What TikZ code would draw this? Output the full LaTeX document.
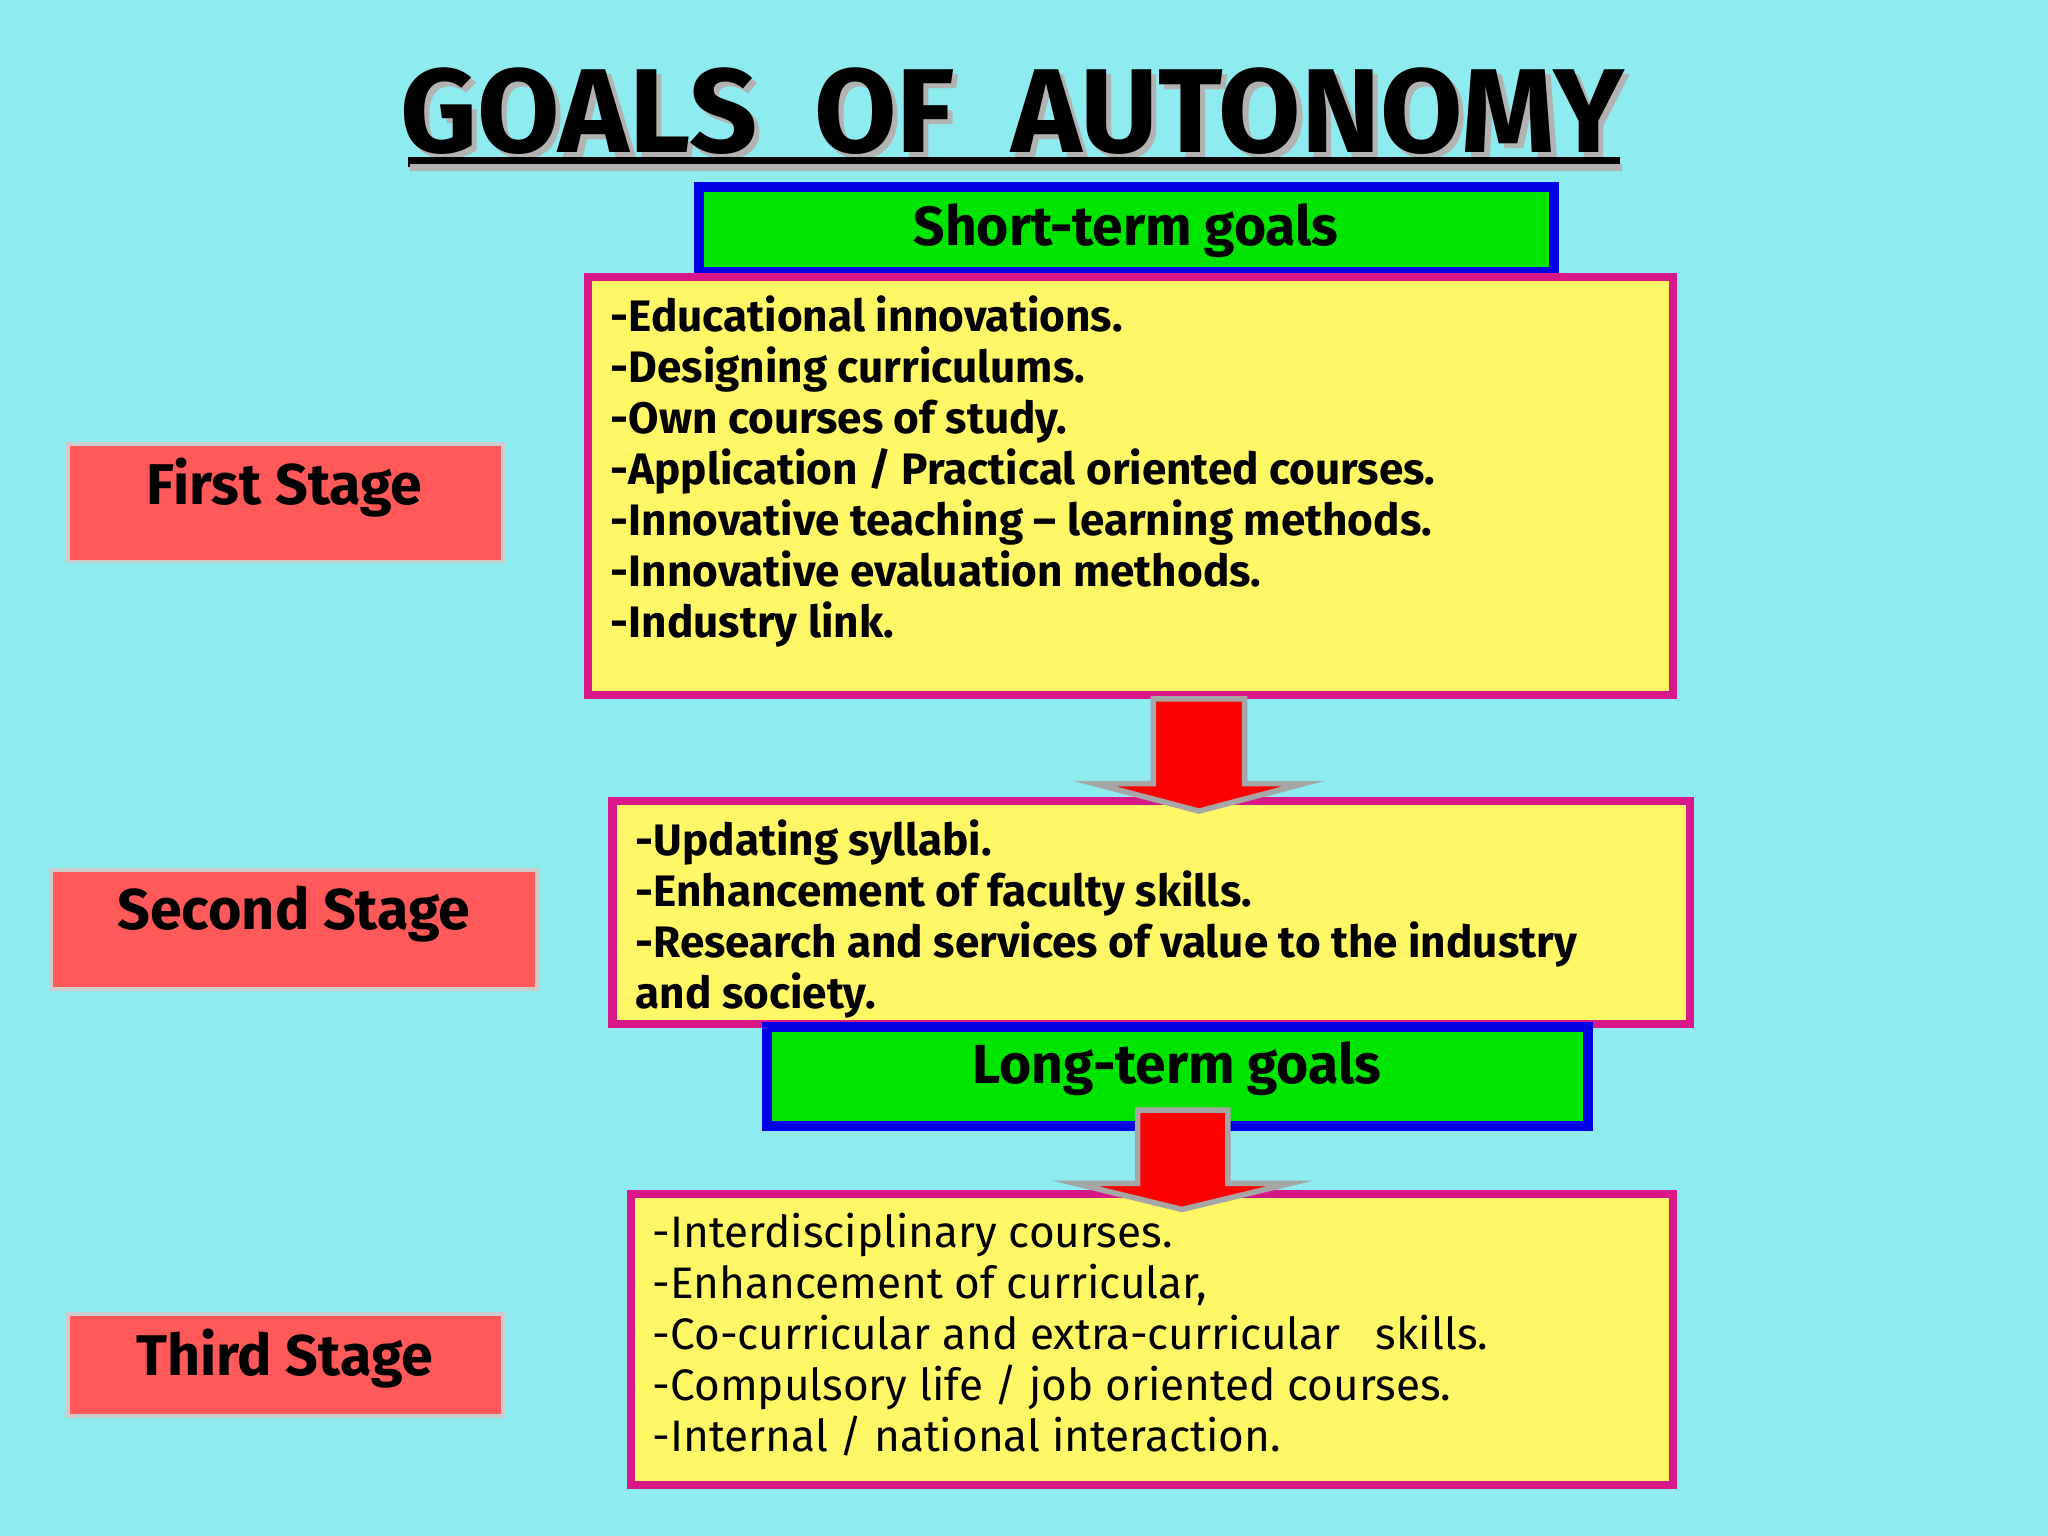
\documentclass[tikz,border=0pt]{standalone}
\usepackage{fontspec}
\setmainfont{Fira Sans}
\definecolor{bgc}{HTML}{8EEBF0}
\begin{document}
\begin{tikzpicture}[x=0.01cm,y=-0.01cm,
  hdr/.style={draw=blue!90!black,line width=2.2pt,fill=green!90!black},
  ybox/.style={draw=magenta!90!black,line width=1.8pt,fill=yellow!60},
  stagebox/.style={draw=gray!40,line width=0.8pt,fill=red!65},
  arr/.style={fill=red,draw=gray!70,line width=1.2pt},
  body/.style={anchor=north west,align=left,font=\fontsize{9.6}{11.1}\selectfont\bfseries,inner sep=0pt},
  stagetxt/.style={font=\fontsize{12.5}{14}\selectfont\bfseries}]
\fill[bgc] (0,0) rectangle (1568,1176);
\useasboundingbox (0,0) rectangle (1568,1176);
\node[gray!60,font=\fontsize{26}{30}\selectfont\bfseries] at (779,89) {GOALS\ \ OF\ \ AUTONOMY};
\node (title) [font=\fontsize{26}{30}\selectfont\bfseries] at (775,85) {GOALS\ \ OF\ \ AUTONOMY};
\draw[line width=2pt] (312,124) -- (1240,124);
\draw[gray!60,line width=1.5pt] (314,128) -- (1242,128);
% short-term
\draw[hdr] (535,143) rectangle (1190,208);
\node (st) [font=\fontsize{12}{14}\selectfont\bfseries] at (862,177) {Short-term goals};
\draw[ybox] (450,212) rectangle (1281,532);
\node (b1) [body] at (467,226) {-Educational innovations.\\-Designing curriculums.\\-Own courses of study.\\-Application / Practical oriented courses.\\-Innovative teaching -- learning methods.\\-Innovative evaluation methods.\\-Industry link.};
\draw[stagebox] (52,340) rectangle (385,430);
\node (s1) [stagetxt] at (218,373) {First Stage};
% box 2
\draw[ybox] (469,613) rectangle (1294,784);
\node (b2) [body] at (486,627) {-Updating syllabi.\\-Enhancement of faculty skills.\\-Research and services of value to the industry\\and society.};
\draw[stagebox] (39,666) rectangle (411,757);
\node (s2) [stagetxt] at (225,700) {Second Stage};
% arrow 1
\draw[arr] (883,535) -- (953,535) -- (953,600) -- (998,600) -- (918,621) -- (838,600) -- (883,600) -- cycle;
% long-term
\draw[hdr] (587,786) rectangle (1216,862);
\node (lt) [font=\fontsize{12}{14}\selectfont\bfseries] at (901,818) {Long-term goals};
% box 3
\draw[ybox] (483,914) rectangle (1281,1137);
\node (b3) [body,font=\fontsize{9.6}{11.1}\selectfont] at (499,928) {-Interdisciplinary courses.\\-Enhancement of curricular,\\-Co-curricular and extra-curricular\ \ \ skills.\\-Compulsory life / job oriented courses.\\-Internal / national interaction.};
\draw[arr] (871,850) -- (940,850) -- (940,906) -- (988,906) -- (905,926) -- (823,906) -- (871,906) -- cycle;
\draw[stagebox] (52,1006) rectangle (385,1084);
\node (s3) [stagetxt] at (218,1040) {Third Stage};
\end{tikzpicture}
\end{document}
